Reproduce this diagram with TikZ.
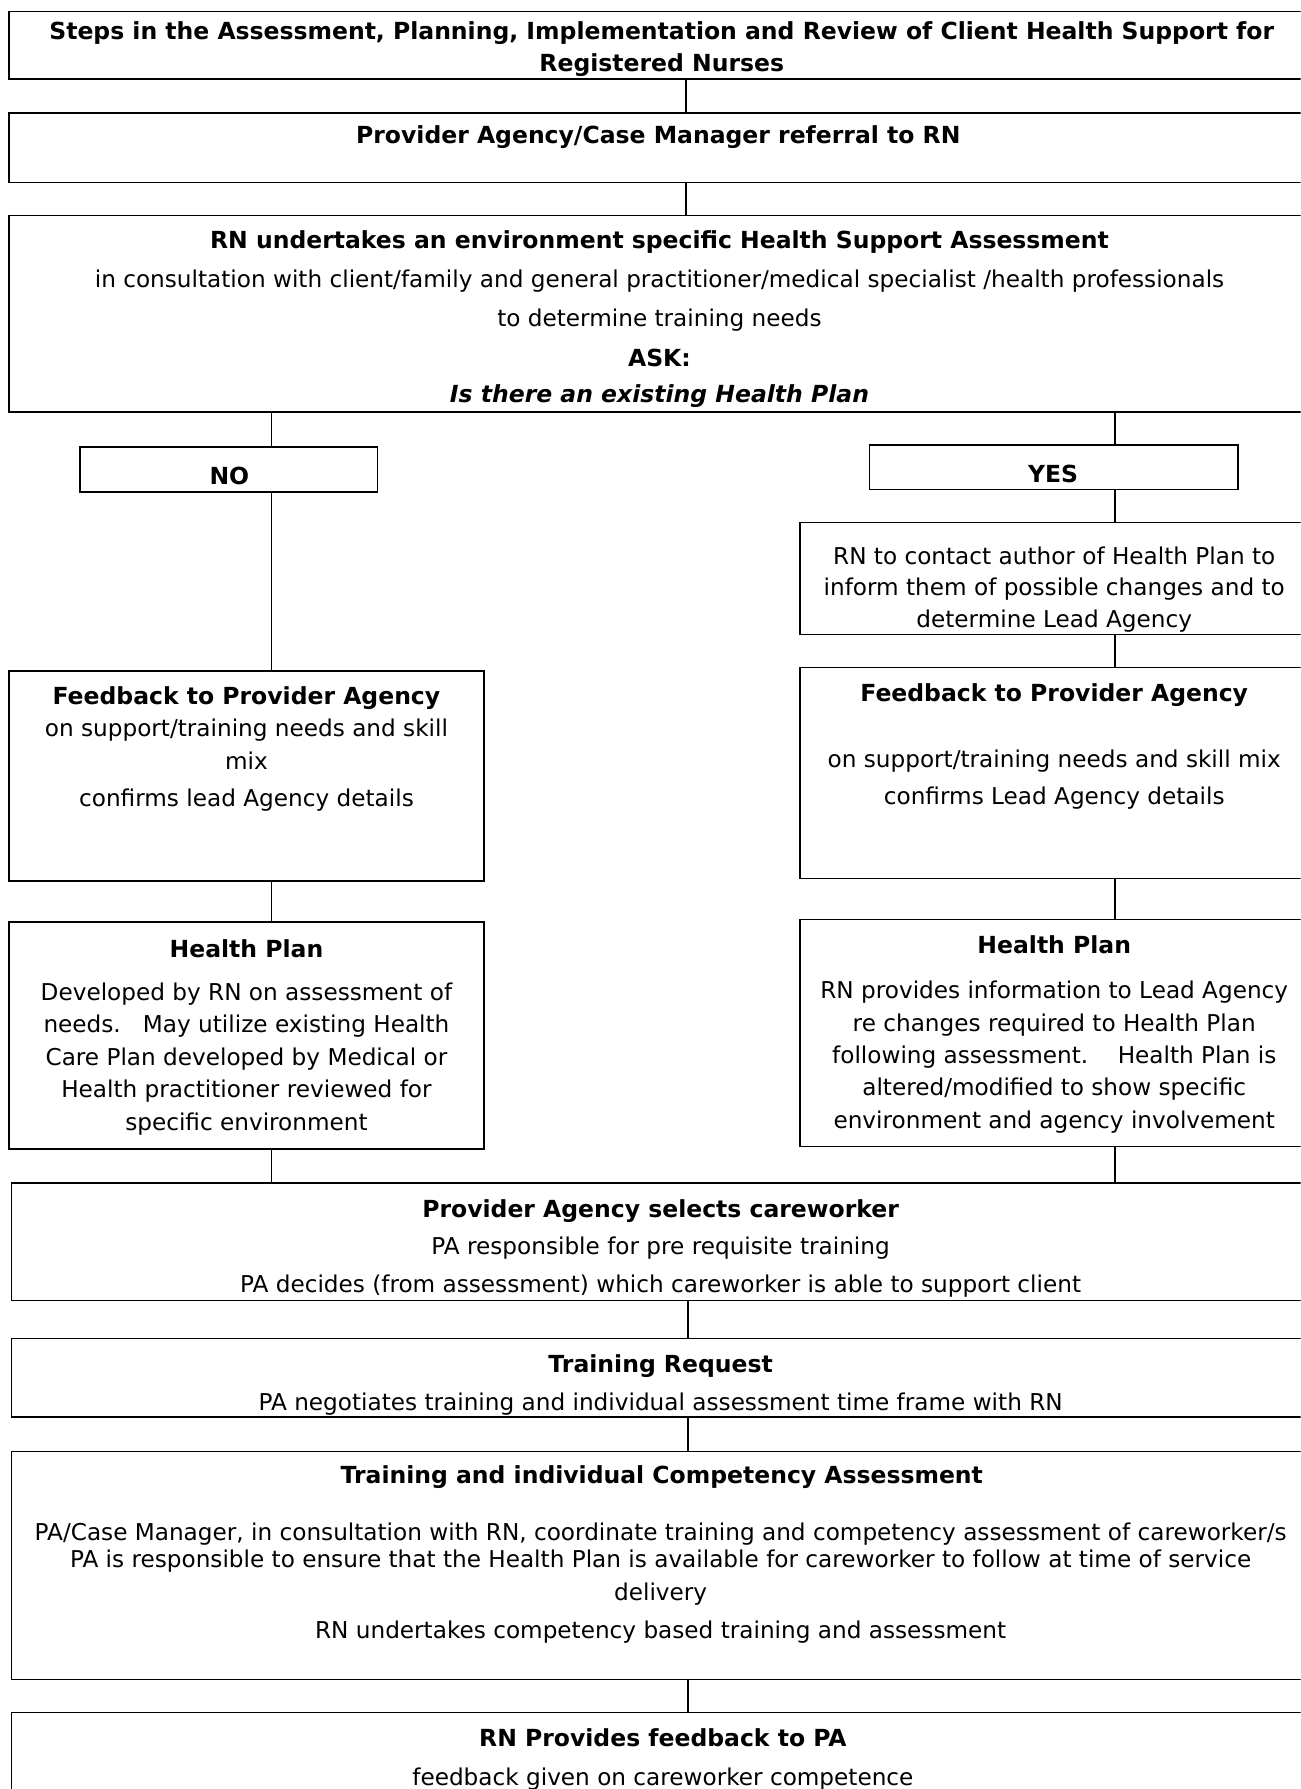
\documentclass[tikz,border=0pt]{standalone}
\usepackage{fontspec}
\setmainfont{DejaVu Sans}
\usetikzlibrary{fit}
\begin{document}
\begin{tikzpicture}[x=0.5pt,y=-0.5pt,
  box/.style={draw, line width=0.7pt, inner sep=0pt, rectangle},
  ln/.style={anchor=mid, inner sep=0pt, yshift=-1.2pt, font=\fontsize{10.15}{12}\selectfont},
  lb/.style={anchor=mid, inner sep=0pt, yshift=-1.2pt, font=\fontsize{10.3}{12}\selectfont\bfseries},
  conn/.style={line width=0.7pt}]
\clip (0,0) rectangle (1140,1568);
\fill[white] (0,0) rectangle (1140,1568);
% boxes
\node[box, fit={(8,10) (1160,69)}] (title) {};
\node[box, fit={(8,99) (1160,160)}] (ref) {};
\node[box, fit={(8,189) (1160,361)}] (assess) {};
\node[box, fit={(70,392) (331,431)}] (no) {};
\node[box, fit={(762,390) (1085,429)}] (yes) {};
\node[box, fit={(701,458) (1160,556)}] (contact) {};
\node[box, fit={(8,588) (424,772)}] (fbl) {};
\node[box, fit={(701,585) (1160,770)}] (fbr) {};
\node[box, fit={(8,808) (424,1007)}] (hpl) {};
\node[box, fit={(701,806) (1160,1005)}] (hpr) {};
\node[box, fit={(10,1037) (1160,1140)}] (pa) {};
\node[box, fit={(10,1173) (1160,1242)}] (tr) {};
\node[box, fit={(10,1272) (1160,1472)}] (comp) {};
\node[box, fit={(10,1501) (1160,1600)}] (rnf) {};
% connector x positions
\coordinate (cx) at (601,0);
\coordinate (cy) at (603,0);
\coordinate (lx) at (238,0);
\coordinate (rx) at (977,0);
\draw[conn] (title.south -| cx) -- (ref.north -| cx);
\draw[conn] (ref.south -| cx) -- (assess.north -| cx);
\draw[conn] (assess.south -| lx) -- (no.north -| lx);
\draw[conn] (no.south -| lx) -- (fbl.north -| lx);
\draw[conn] (assess.south -| rx) -- (yes.north -| rx);
\draw[conn] (yes.south -| rx) -- (contact.north -| rx);
\draw[conn] (contact.south -| rx) -- (fbr.north -| rx);
\draw[conn] (fbl.south -| lx) -- (hpl.north -| lx);
\draw[conn] (fbr.south -| rx) -- (hpr.north -| rx);
\draw[conn] (hpl.south -| lx) -- (pa.north -| lx);
\draw[conn] (hpr.south -| rx) -- (pa.north -| rx);
\draw[conn] (pa.south -| cy) -- (tr.north -| cy);
\draw[conn] (tr.south -| cy) -- (comp.north -| cy);
\draw[conn] (comp.south -| cy) -- (rnf.north -| cy);
% texts
\node[lb] (t1) at (580,27) {Steps in the Assessment, Planning, Implementation and Review of Client Health Support for};
\node[lb] (t2) at (580,55) {Registered Nurses};
\node[lb] (r1) at (577,118) {Provider Agency/Case Manager referral to RN};
\node[lb] (a1) at (578,210) {RN undertakes an environment specific Health Support Assessment};
\node[ln] (a2) at (578,244) {in consultation with client/family and general practitioner/medical specialist /health professionals};
\node[ln] (a3) at (578,278) {to determine training needs};
\node[lb] (a4) at (578,313) {ASK:};
\node[lb] (a5) at (578,345) {\itshape Is there an existing Health Plan};
\node[lb] (nt) at (201,417) {NO};
\node[lb] (yt) at (923,415) {YES};
\node[ln] (c1) at (924,487) {RN to contact author of Health Plan to};
\node[ln] (c2) at (924,514) {inform them of possible changes and to};
\node[ln] (c3) at (924,542) {determine Lead Agency};
\node[lb] (fl1) at (216,610) {Feedback to Provider Agency};
\node[ln] (fl2) at (216,638) {on support/training needs and skill};
\node[ln] (fl3) at (216,667) {mix};
\node[ln] (fl4) at (216,699) {confirms lead Agency details};
\node[lb] (fr1) at (924,607) {Feedback to Provider Agency};
\node[ln] (fr2) at (924,665) {on support/training needs and skill mix};
\node[ln] (fr3) at (924,697) {confirms Lead Agency details};
\node[lb] (hl1) at (216,831) {Health Plan};
\node[ln] (hl2) at (216,869) {Developed by RN on assessment of};
\node[ln] (hl3) at (216,897) {needs.\ \ \ May utilize existing Health};
\node[ln] (hl4) at (216,926) {Care Plan developed by Medical or};
\node[ln] (hl5) at (216,954) {Health practitioner reviewed for};
\node[ln] (hl6) at (216,983) {specific environment};
\node[lb] (hr1) at (924,828) {Health Plan};
\node[ln] (hr2) at (924,867) {RN provides information to Lead Agency};
\node[ln] (hr3) at (924,896) {re changes required to Health Plan};
\node[ln] (hr4) at (924,924) {following assessment.\ \ \ \ Health Plan is};
\node[ln] (hr5) at (924,952) {altered/modified to show specific};
\node[ln] (hr6) at (924,981) {environment and agency involvement};
\node[lb] (p1) at (579,1059) {Provider Agency selects careworker};
\node[ln] (p2) at (579,1092) {PA responsible for pre requisite training};
\node[ln] (p3) at (579,1125) {PA decides (from assessment) which careworker is able to support client};
\node[lb] (tr1) at (579,1195) {Training Request};
\node[ln] (tr2) at (579,1228) {PA negotiates training and individual assessment time frame with RN};
\node[lb] (cp1) at (580,1292) {Training and individual Competency Assessment};
\node[ln] (cp2) at (579,1342) {PA/Case Manager, in consultation with RN, coordinate training and competency assessment of careworker/s};
\node[ln] (cp3) at (579,1366) {PA is responsible to ensure that the Health Plan is available for careworker to follow at time of service};
\node[ln] (cp4) at (579,1395) {delivery};
\node[ln] (cp5) at (579,1428) {RN undertakes competency based training and assessment};
\node[lb] (rf1) at (581,1523) {RN Provides feedback to PA};
\node[ln] (rf2) at (581,1557) {feedback given on careworker competence};
\end{tikzpicture}
\end{document}
